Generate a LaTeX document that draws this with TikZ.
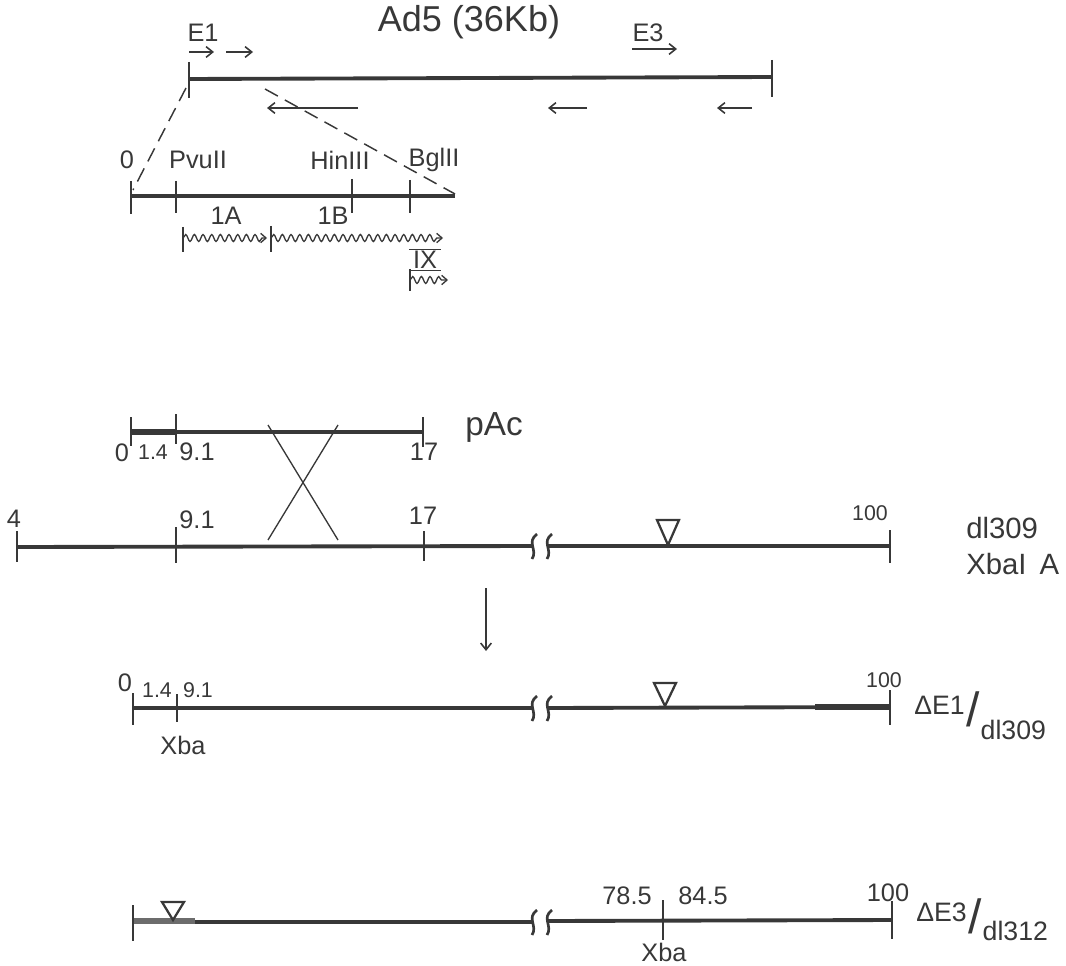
\documentclass[tikz,border=0pt]{standalone}
\usepackage{fontspec}
\setmainfont{Liberation Sans}
\usetikzlibrary{decorations.pathmorphing, arrows.meta}
\tikzstyle{genome} = [line width=2.9pt]
\tikzstyle{heavy} = [line width=4.5pt]
\tikzstyle{tickmark} = [line width=1.7pt]
\tikzstyle{orf} = [line width=1.2pt,-{Straight Barb[length=5pt,width=8pt]}]
\tikzstyle{wave} = [line width=1pt,-{Straight Barb[length=4pt,width=7pt]}, decorate,
  decoration={snake, amplitude=2.6pt, segment length=6.5pt, post length=3pt}]
\tikzstyle{lbl} = [inner sep=0pt, font=\fontsize{19}{22}\selectfont]
\tikzstyle{smalllbl} = [inner sep=0pt, font=\fontsize{16}{18}\selectfont]
\tikzstyle{biglbl} = [inner sep=0pt, font=\fontsize{22}{26}\selectfont]
\tikzstyle{marker} = [line width=1.7pt, fill=white]
\tikzstyle{slashlbl} = [anchor=west, inner sep=0pt, font=\fontsize{20}{24}\selectfont]

\begin{document}
\begin{tikzpicture}[x=0.75pt, y=-0.75pt, color=black!78]
\useasboundingbox (0,0) rectangle (1066,966);

% --------- Ad5 genome ----------
\node (AD5) [inner sep=0pt, font=\fontsize{27}{30}\selectfont] at (469,22) {Ad5 (36Kb)};
\node (E1LBL) [lbl] at (203,33) {E1};
\node (E3LBL) [lbl] at (648,33) {E3};
\draw [orf] (189,52) -- (214,52);
\draw [orf] (226,52) -- (253,52);
\draw [orf] (632,49) -- (677,49);

\draw [genome] (189,79) -- (772,77);
\draw [tickmark] (189,62) -- (189,98);
\draw [tickmark] (772,60) -- (772,97);
\draw [orf] (358,108) -- (267,108);
\draw [orf] (587,108) -- (548,108);
\draw [orf] (752,108) -- (717,108);

% expansion of the left end
\draw [line width=1.1pt, dash pattern=on 11pt off 6pt] (186,88) -- (133,190);
\draw [line width=1.1pt, dash pattern=on 11pt off 6pt] (265,89) -- (455,194);

% --------- E1 region map ----------
\draw [genome] (131,196) -- (455,196);
\draw [tickmark] (131,181) -- (131,214);
\draw [tickmark] (176,181) -- (176,213);
\draw [tickmark] (352,179) -- (352,213);
\draw [tickmark] (410,180) -- (410,213);
\node (ZERO)  [lbl] at (127,160) {0};
\node (PVU)   [lbl] at (198,160) {PvuII};
\node (HIN)   [lbl] at (340,160) {HinIII};
\node (BGL)   [lbl] at (434,160) {BglII};
\node (E1A)   [lbl] at (226,216) {1A};
\node (E1B)   [lbl] at (333,216) {1B};

\draw [wave] (183,238) -- (267,238);
\draw [tickmark] (183,227) -- (183,252);
\draw [wave] (271,238) -- (443,238);
\draw [tickmark] (271,226) -- (271,252);
\node (PIX) [lbl] at (425,260) {IX};
\draw [line width=1pt] ([xshift=-3pt,yshift=1pt]PIX.north west) -- ([xshift=3pt,yshift=1pt]PIX.north east);
\draw [line width=1pt] ([xshift=-3pt,yshift=-1pt]PIX.south west) -- ([xshift=3pt,yshift=-1pt]PIX.south east);
\draw [wave] (410,280) -- (448,280);
\draw [tickmark] (410,269) -- (410,291);

% --------- pAc ----------
\draw [genome] (131,432) -- (423,432);
\draw [heavy] (131,432) -- (176,432);
\draw [tickmark] (131,417) -- (131,446);
\draw [tickmark] (176,414) -- (176,444);
\draw [tickmark] (423,417) -- (423,447);
\node (PAC0)  [lbl] at (122,453) {0};
\node (PAC14) [smalllbl] at (153,452) {1.4};
\node (PAC91) [lbl] at (197,452) {9.1};
\node (PAC17) [lbl] at (424,452) {17};
\node (PAC)   [inner sep=0pt, font=\fontsize{25}{28}\selectfont] at (494,427) {pAc};

% recombination
\draw [line width=1pt] (268,425) -- (338,540);
\draw [line width=1pt] (338,425) -- (268,540);

% --------- dl309 ----------
\draw [genome] (17,547) -- (532,546);
\draw [genome] (548,546) -- (890,546);
\draw [tickmark] (17,531) -- (17,562);
\draw [tickmark] (176,527) -- (176,563);
\draw [tickmark] (424,531) -- (424,561);
\draw [tickmark] (890,530) -- (890,563);
\foreach \bx in {533,548}
  \draw [line width=2pt] (\bx+4,534) .. controls (\bx-7,542) and (\bx+5,550) .. (\bx-1,559);
\draw [marker] (657,520) -- (679,520) -- (668,545) -- cycle;
\node (DL4)   [lbl] at (14,519) {4};
\node (DL91)  [lbl] at (197,520) {9.1};
\node (DL17)  [lbl] at (423,516) {17};
\node (DL100) [smalllbl] at (870,513) {100};
\node (DL309) [biglbl, anchor=west] at (966,528) {dl309};
\node (XBAA)  [biglbl, anchor=west] at (966,564) {XbaI\, A};

\coordinate (ARRTOP) at (486,588);
\coordinate (ARRBOT) at (486,651);
\draw [orf] (ARRTOP) -- (ARRBOT);

% --------- dE1/dl309 ----------
\draw [genome] (133,708) -- (532,708);
\draw [genome] (548,708) -- (890,707);
\draw [heavy] (815,707) -- (890,707);
\draw [tickmark] (133,693) -- (133,725);
\draw [tickmark] (177,694) -- (177,722);
\draw [tickmark] (890,690) -- (890,725);
\foreach \bx in {533,548}
  \draw [line width=2pt] (\bx+4,696) .. controls (\bx-7,704) and (\bx+5,712) .. (\bx-1,721);
\draw [marker] (654,683) -- (676,683) -- (665,706) -- cycle;
\node (R0)    [lbl] at (125,683) {0};
\node (R14)   [smalllbl] at (157,690) {1.4};
\node (R91)   [smalllbl] at (198,690) {9.1};
\node (R100)  [smalllbl] at (884,680) {100};
\node (RXBA)  [lbl] at (183,745) {Xba};
\node (DE1) [slashlbl] at (914,716)
  {\raisebox{0.9ex}{ΔE1}\hspace{0.05em}\scalebox{1.8}{/}\hspace{0.05em}\raisebox{-0.9ex}{dl309}};

% --------- dE3/dl312 ----------
\draw [genome] (133,922) -- (532,922);
\draw [genome] (548,921) -- (892,920);
\draw [heavy, gray!85!black] (133,921) -- (195,921);
\draw [tickmark] (133,905) -- (133,941);
\draw [tickmark] (663,900) -- (663,940);
\draw [tickmark] (892,901) -- (892,939);
\foreach \bx in {533,548}
  \draw [line width=2pt] (\bx+4,910) .. controls (\bx-7,918) and (\bx+5,926) .. (\bx-1,935);
\draw [marker] (162,902) -- (184,902) -- (173,920) -- cycle;
\node (L785)  [lbl] at (627,896) {78.5};
\node (L845)  [lbl] at (703,896) {84.5};
\node (L100)  [lbl] at (888,893) {100};
\node (LXBA)  [lbl] at (664,952) {Xba};
\node (DE3) [slashlbl] at (916,920)
  {\raisebox{0.9ex}{ΔE3}\hspace{0.05em}\scalebox{1.8}{/}\hspace{0.05em}\raisebox{-0.5ex}{dl312}};

\end{tikzpicture}
\end{document}
